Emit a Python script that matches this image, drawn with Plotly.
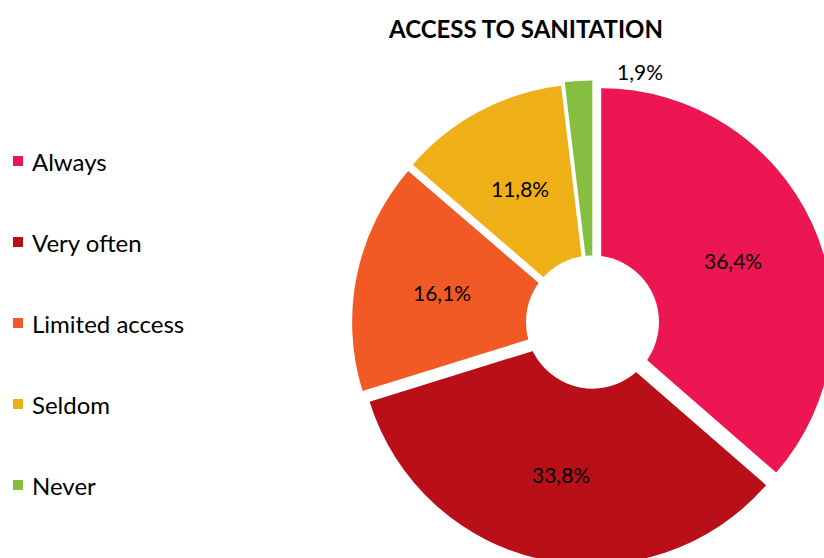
import math
import plotly.graph_objects as go

# Survey answers: how often respondents have access to sanitation (%)
labels = ["Always", "Very often", "Limited access", "Seldom", "Never"]
values = [36.4, 33.8, 16.1, 11.8, 1.9]
colors = ["#EC1652", "#B80F18", "#F15A24", "#EFB017", "#86BF3F"]
title_text = "ACCESS TO SANITATION"

# Canvas (slightly larger than the view, so the ring runs off the right/bottom edges)
W, H = 840, 570
FONT = "Lato, 'Open Sans', sans-serif"

# Ring geometry in pixels
cx, cy = 593.0, 324.0      # pie centre
R = 232.0                  # outer radius
pulls = [0.039, 0.039, 0.039, 0.039, 0.05]
hole_r = 66.5              # white centre disc
hole_cx, hole_cy = 592.5, 322.0
label_r = 0.625            # data labels sit at this fraction of the radius

half = R * (1 + max(pulls))
pie_domain_x = [(cx - half) / W, (cx + half) / W]
pie_domain_y = [1 - (cy + half) / H, 1 - (cy - half) / H]


def fmt(v):
    return f"{v:.1f}%".replace(".", ",")


fig = go.Figure()

fig.add_trace(go.Pie(
    labels=labels,
    values=values,
    marker=dict(colors=colors, line=dict(width=0)),
    sort=False,
    direction="clockwise",
    rotation=0,
    pull=pulls,
    hole=0.24,
    textinfo="none",
    domain=dict(x=pie_domain_x, y=pie_domain_y),
    showlegend=False,
    hoverinfo="skip",
))

# white disc in the middle of the ring
fig.add_trace(go.Pie(
    labels=[""],
    values=[1],
    marker=dict(colors=["#FFFFFF"], line=dict(width=0)),
    textinfo="none",
    hoverinfo="skip",
    showlegend=False,
    domain=dict(
        x=[(hole_cx - hole_r) / W, (hole_cx + hole_r) / W],
        y=[1 - (hole_cy + hole_r) / H, 1 - (hole_cy - hole_r) / H],
    ),
))

# data labels on the slice bisectors (the thin last slice gets its label outside)
total = sum(values)
start = 0.0
for i, v in enumerate(values):
    mid = math.radians((start + v / 2) / total * 360.0)
    start += v
    if i == len(values) - 1:
        px, py = 640.0, 72.0
    else:
        d = (label_r + pulls[i]) * R
        px, py = cx + d * math.sin(mid), cy - d * math.cos(mid)
    fig.add_annotation(
        x=px / W, y=1 - py / H, xref="paper", yref="paper",
        text=fmt(v), showarrow=False, xanchor="center", yanchor="middle",
        font=dict(family=FONT, size=21, color="#000000"),
    )

# legend column on the left
leg_top, leg_step = 161, 81
for i, (lab, col) in enumerate(zip(labels, colors)):
    yc = leg_top + i * leg_step
    fig.add_shape(
        type="rect", xref="paper", yref="paper",
        x0=13 / W, x1=23 / W, y0=1 - (yc + 5) / H, y1=1 - (yc - 5) / H,
        fillcolor=col, line=dict(width=0),
    )
    fig.add_annotation(
        x=30 / W, y=1 - yc / H, xref="paper", yref="paper",
        text=lab, showarrow=False, xanchor="left", yanchor="middle",
        font=dict(family=FONT, size=24, color="#000000"),
    )

fig.update_layout(
    width=W, height=H,
    margin=dict(l=0, r=0, t=0, b=0),
    paper_bgcolor="#FFFFFF",
    plot_bgcolor="#FFFFFF",
    title=dict(
        text=f"<b>{title_text}</b>",
        x=526 / W, xanchor="center",
        y=1 - 30 / H, yanchor="middle",
        font=dict(family=FONT, size=24, color="#000000"),
    ),
)

fig.write_html(
    "out.html",
    post_script="document.documentElement.style.overflow='hidden';"
                "document.body.style.overflow='hidden';"
                "document.body.style.margin='0';",
)
